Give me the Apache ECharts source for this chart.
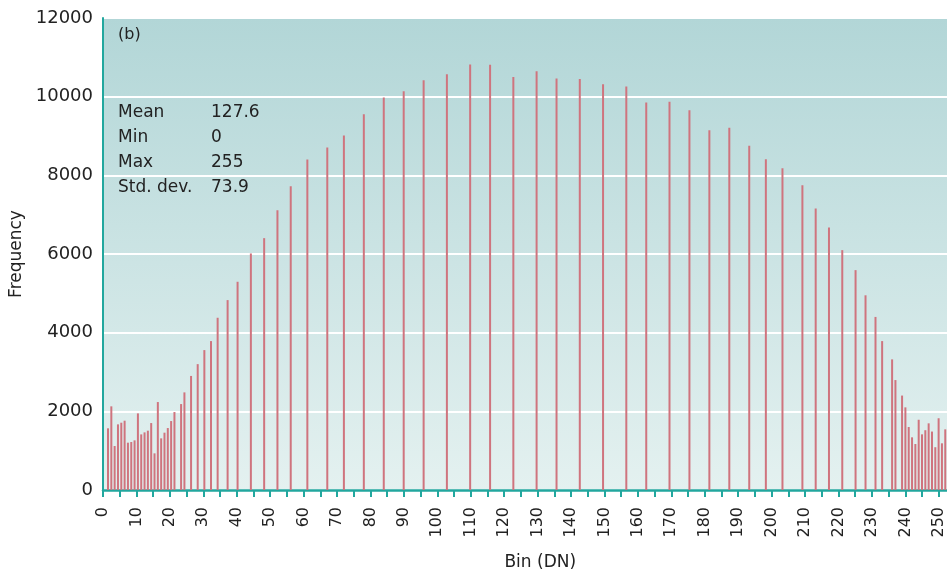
<!DOCTYPE html>
<html>
<head>
<meta charset="utf-8">
<script src="https://cdn.jsdelivr.net/npm/echarts@6/dist/echarts.min.js"></script>
<style>
html,body{margin:0;padding:0;background:#fff;}
#chart{width:947px;height:572px;}
</style>
</head>
<body>
<div id="chart"></div>
<script>
// Histogram bins (DN) that have counts, and their frequencies
const bins = [0,1,2,3,4,5,6,7,8,9,10,11,12,13,14,15,16,17,18,19,20,22,23,25,27,29,31,33,36,39,43,47,51,55,60,66,71,77,83,89,95,102,109,115,122,129,135,142,149,156,162,169,175,181,187,193,198,203,209,213,217,221,225,228,231,233,236,237,239,240,241,242,243,244,245,246,247,248,249,250,251,252];
const counts = [1568,2127,1118,1669,1711,1762,1203,1220,1262,1948,1414,1465,1508,1702,932,2236,1313,1457,1575,1753,1982,2185,2482,2900,3200,3557,3786,4379,4828,5294,6014,6403,7115,7725,8403,8707,9012,9554,9978,10139,10418,10571,10817,10810,10503,10647,10461,10452,10316,10257,9851,9868,9656,9148,9207,8750,8411,8182,7750,7157,6675,6098,5590,4950,4400,3786,3321,2795,2401,2101,1601,1339,1169,1786,1415,1520,1695,1486,1088,1824,1187,1542];
const statLabels = ['Mean','Min','Max','Std. dev.'];
const statValues = ['127.6','0','255','73.9'];
const panelLabel = '(b)';

const FONT = 'DejaVu Sans';
const TXT = '#222222';
const TEAL = '#22a79e';

const chart = echarts.init(document.getElementById('chart'));

const graphics = [{
  type:'text', x:118, y:35,
  style:{text:panelLabel, fontSize:16, fontFamily:FONT, fill:TXT, verticalAlign:'middle'}
}];
statLabels.forEach((s,i)=>{
  graphics.push({type:'text', x:118, y:113+i*25,
    style:{text:s, fontSize:17, fontFamily:FONT, fill:TXT, verticalAlign:'middle'}});
  graphics.push({type:'text', x:211, y:113+i*25,
    style:{text:statValues[i], fontSize:17, fontFamily:FONT, fill:TXT, verticalAlign:'middle'}});
});

chart.setOption({
  animation:false,
  grid:{
    left:103, right:-8.5, top:18, bottom:82,
    containLabel:false, outerBoundsMode:'none',
    show:true, borderWidth:0,
    backgroundColor:new echarts.graphic.LinearGradient(0,0,0,1,[
      {offset:0,color:'#b2d6d7'},{offset:1,color:'#e4f1f0'}
    ])
  },
  xAxis:[{
    type:'value', min:0, max:255, interval:5,
    name:'Bin (DN)', nameLocation:'middle', nameGap:64,
    nameTextStyle:{fontSize:17, fontFamily:FONT, color:TXT, padding:[0,0,0,22]},
    axisLine:{show:true, onZero:false, lineStyle:{color:TEAL, width:2.5}},
    axisTick:{show:true, length:7, lineStyle:{color:TEAL, width:2}},
    splitLine:{show:false},
    axisLabel:{rotate:90, margin:17, fontSize:16, fontFamily:FONT, color:TXT,
      formatter:v => (v % 10 === 0 ? String(v) : '')}
  },{
    type:'value', min:-1.505, max:255.08, show:false
  }],
  yAxis:{
    type:'value', min:0, max:12000, interval:2000,
    name:'Frequency', nameLocation:'middle', nameGap:76,
    nameTextStyle:{fontSize:17, fontFamily:FONT, color:TXT},
    axisLine:{show:true, lineStyle:{color:TEAL, width:2}},
    axisTick:{show:false},
    splitLine:{show:true, lineStyle:{color:'#ffffff', width:2}},
    axisLabel:{margin:10, fontSize:18, fontFamily:FONT, color:TXT,
      formatter:v => String(v)}
  },
  graphic:graphics,
  series:[{
    type:'bar', xAxisIndex:1, yAxisIndex:0,
    barWidth:2,
    itemStyle:{color:'#cf747e'},
    data:bins.map((b,i)=>[b,counts[i]])
  }]
});
</script>
</body>
</html>
